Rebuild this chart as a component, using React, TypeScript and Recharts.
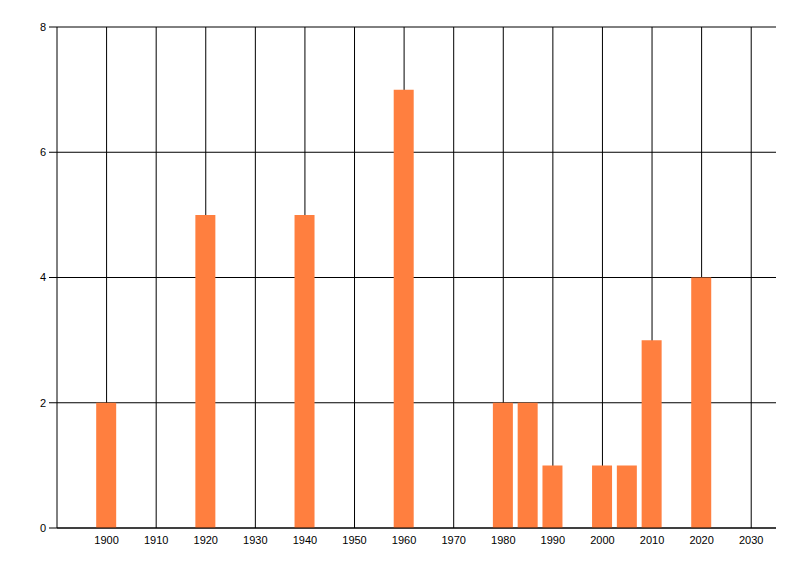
import React from "react";
import { BarChart, Bar, XAxis, YAxis, CartesianGrid } from "recharts";

const years = [1900, 1920, 1940, 1960, 1980, 1985, 1990, 2000, 2005, 2010, 2020];
const counts = [2, 5, 5, 7, 2, 2, 1, 1, 1, 3, 4];
const xTicks = [1900, 1910, 1920, 1930, 1940, 1950, 1960, 1970, 1980, 1990, 2000, 2010, 2020, 2030];
const yTicks = [0, 2, 4, 6, 8];

const data = years.map((year, i) => ({ year, count: counts[i] }));

const tickStyle = { fontFamily: "Liberation Sans, Arial, sans-serif", fontSize: 11, fill: "#000" };

export default function App() {
  return (
    <div style={{ position: "absolute", left: 0, top: 0, width: 800, height: 576, background: "#fff" }}>
      <BarChart
        width={800}
        height={576}
        data={data}
        margin={{ top: 27, right: 24, bottom: 0, left: 0 }}
      >
        <CartesianGrid stroke="#000" strokeWidth={1} syncWithTicks />
        <XAxis
          dataKey="year"
          type="number"
          domain={[1890, 2035]}
          ticks={xTicks}
          interval={0}
          tickLine={false}
          axisLine={{ stroke: "#000" }}
          tick={tickStyle}
          height={48}
          tickSize={6}
          tickMargin={2}
        />
        <YAxis
          type="number"
          domain={[0, 8]}
          ticks={yTicks}
          interval={0}
          width={57}
          axisLine={{ stroke: "#000" }}
          tickLine={{ stroke: "#000" }}
          tickSize={8}
          tickMargin={3}
          tick={tickStyle}
        />
        <Bar dataKey="count" fill="#ff7f3f" barSize={20} isAnimationActive={false} />
      </BarChart>
    </div>
  );
}
